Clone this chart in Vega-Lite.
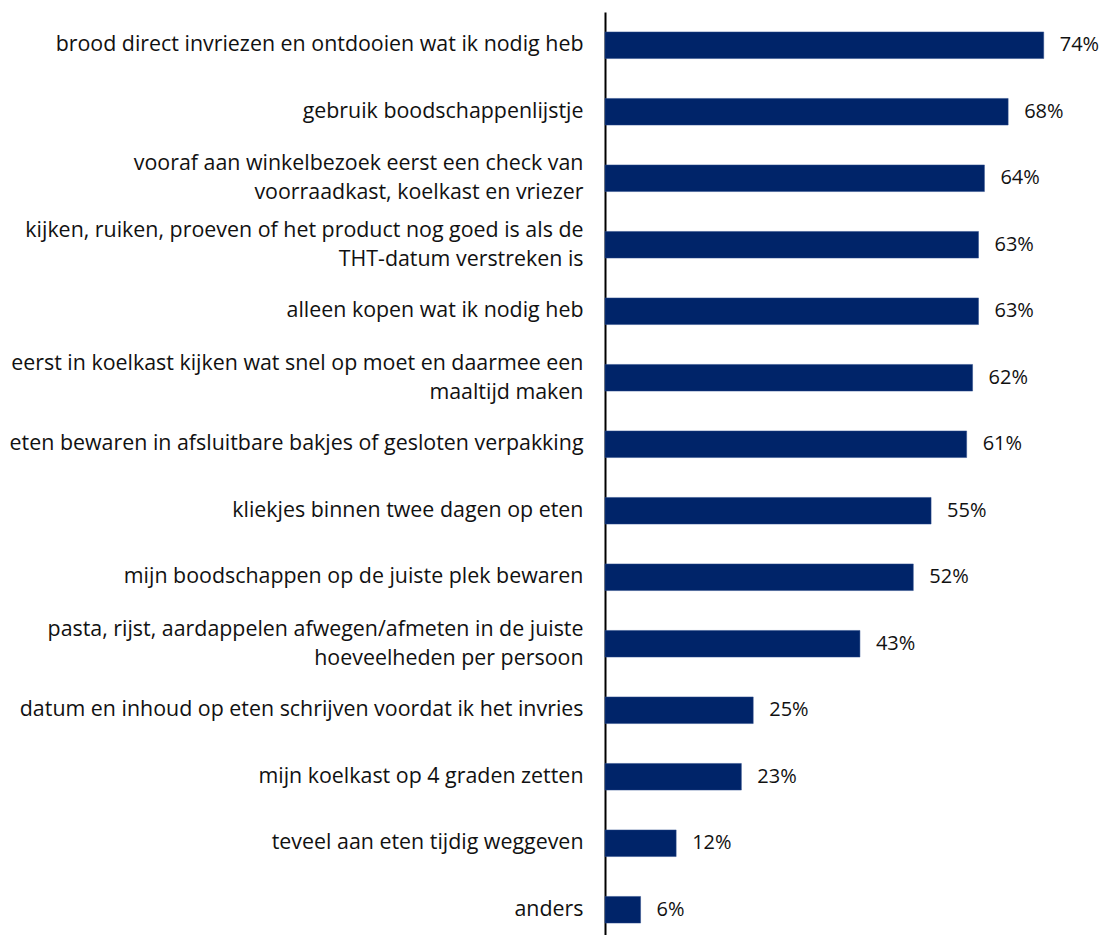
{
  "$schema": "https://vega.github.io/schema/vega-lite/v6.json",
  "autosize": {"type": "none"},
  "padding": {"left": 605, "top": 12, "right": 0, "bottom": 0},
  "width": 498,
  "height": 931,
  "background": "white",
  "config": {"view": {"stroke": null}, "font": "Open Sans"},
  "data": {
    "values": [
      {"label": "brood direct invriezen en ontdooien wat ik nodig heb", "value": 0.74},
      {"label": "gebruik boodschappenlijstje", "value": 0.68},
      {"label": "vooraf aan winkelbezoek eerst een check van|voorraadkast, koelkast en vriezer", "value": 0.64},
      {"label": "kijken, ruiken, proeven of het product nog goed is als de|THT-datum verstreken is", "value": 0.63},
      {"label": "alleen kopen wat ik nodig heb", "value": 0.63},
      {"label": "eerst in koelkast kijken wat snel op moet en daarmee een|maaltijd maken", "value": 0.62},
      {"label": "eten bewaren in afsluitbare bakjes of gesloten verpakking", "value": 0.61},
      {"label": "kliekjes binnen twee dagen op eten", "value": 0.55},
      {"label": "mijn boodschappen op de juiste plek bewaren", "value": 0.52},
      {"label": "pasta, rijst, aardappelen afwegen/afmeten in de juiste|hoeveelheden per persoon", "value": 0.43},
      {"label": "datum en inhoud op eten schrijven voordat ik het invries", "value": 0.25},
      {"label": "mijn koelkast op 4 graden zetten", "value": 0.23},
      {"label": "teveel aan eten tijdig weggeven", "value": 0.12},
      {"label": "anders", "value": 0.06}
    ]
  },
  "encoding": {
    "y": {
      "field": "label",
      "type": "nominal",
      "sort": null,
      "scale": {"paddingInner": 0.6, "paddingOuter": 0.3},
      "axis": {
        "title": null,
        "labelExpr": "split(datum.label, '|')",
        "labelFont": "Open Sans",
        "labelFontSize": 21.4,
        "labelColor": "#111111",
        "labelLineHeight": 29,
        "labelPadding": 22,
        "labelLimit": 0,
        "labelOffset": {"condition": {"test": "indexof(datum.value, '|') >= 0", "value": -14}, "value": 0},
        "ticks": false,
        "domainColor": "#000000",
        "domainWidth": 2,
        "labelAlign": "right",
        "labelBaseline": "middle"
      }
    },
    "x": {
      "field": "value",
      "type": "quantitative",
      "scale": {"domain": [0, 0.84]},
      "axis": null
    }
  },
  "layer": [
    {"mark": {"type": "bar", "color": "#002469", "stroke": "#2a4a8a", "strokeWidth": 0.5}},
    {
      "mark": {"type": "text", "align": "left", "baseline": "middle", "dx": 16, "font": "Open Sans", "fontSize": 20, "color": "#111111"},
      "encoding": {"text": {"field": "value", "type": "quantitative", "format": ".0%"}}
    }
  ]
}
